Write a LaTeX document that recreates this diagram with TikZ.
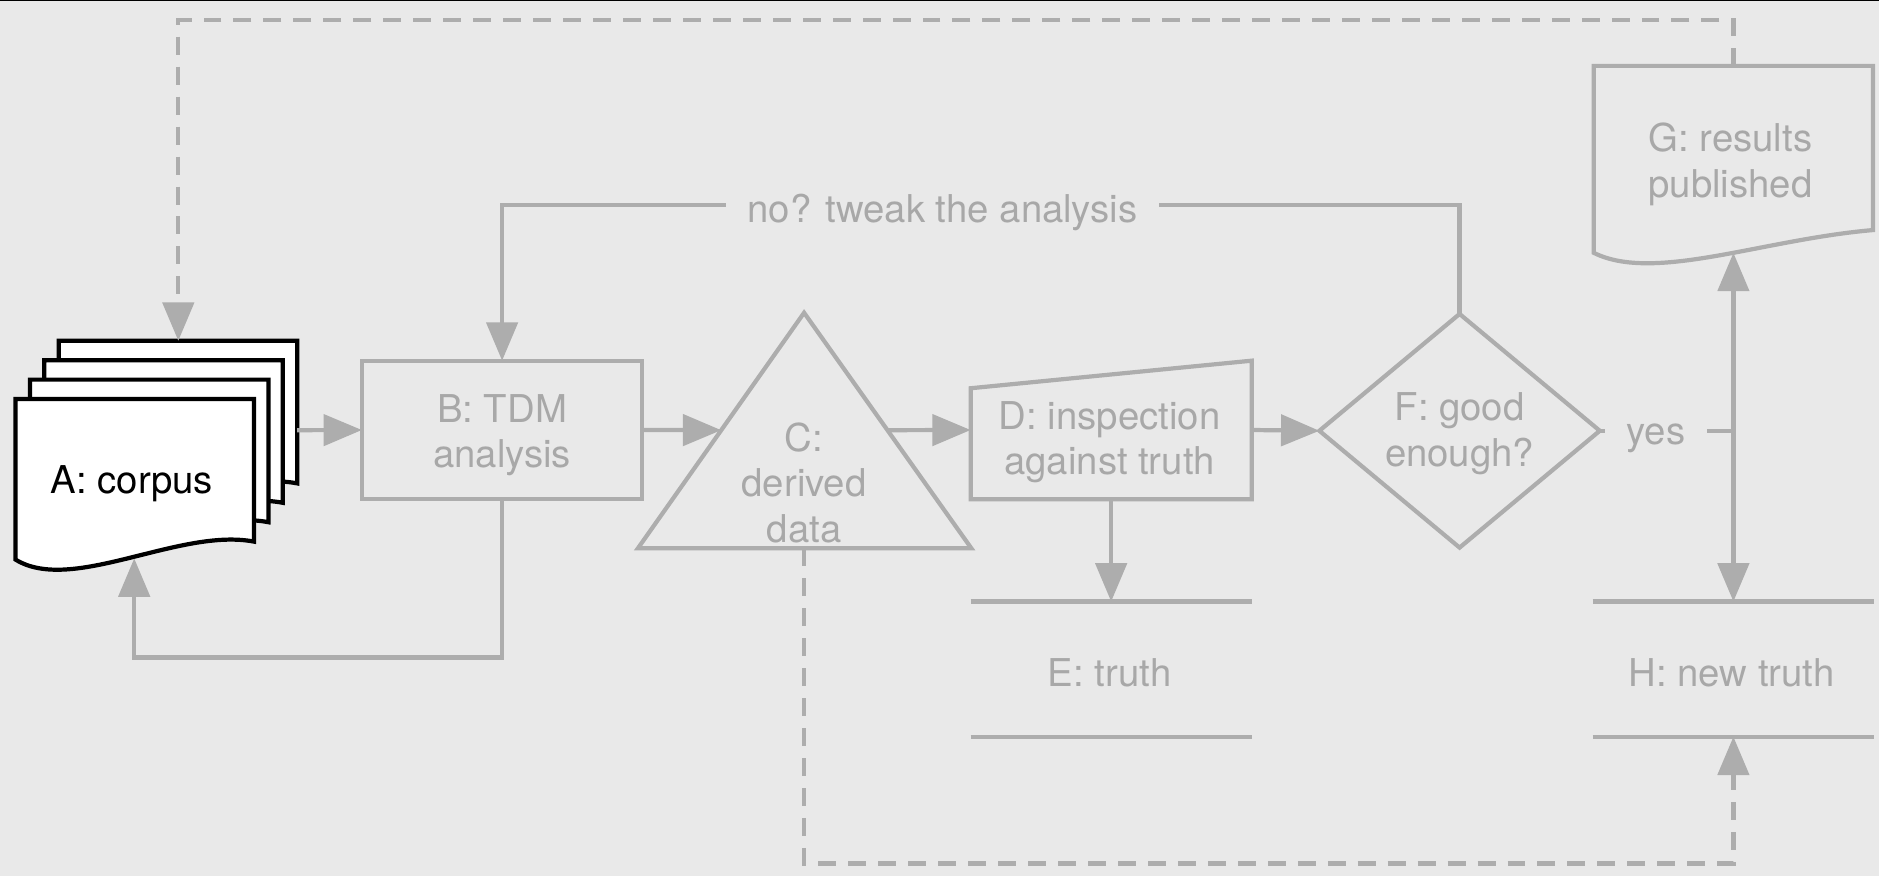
\documentclass[tikz,border=0pt]{standalone}
\usepackage{fontspec}
\setmainfont{TeX Gyre Heros}
\usepackage{tikz}
\usetikzlibrary{arrows.meta,shapes.geometric}
\definecolor{bgc}{RGB}{233,233,233}
\definecolor{ln}{RGB}{173,173,173}
\definecolor{txc}{RGB}{168,168,168}
\newcommand\flowfont{\fontsize{9.1pt}{10.8pt}\selectfont}
\tikzset{>={Triangle[length=3.2mm,width=2.6mm]}}
\tikzset{
  shapebox/.style={inner sep=0,outer sep=0,align=center,text=txc,font=\flowfont},
  shp/.style={draw=ln,line width=1pt,line join=miter},
  flow/.style={ln,line width=1pt,->},
  dflow/.style={flow,dash pattern=on 1.5mm off 1mm},
  lbl/.style={fill=bgc,text=txc,font=\flowfont,inner xsep=1.8mm,inner ysep=0.8mm,yshift=-0.65mm},
  page/.style={draw=black,fill=white,line width=1pt,line join=miter}
}

\begin{document}
\begin{tikzpicture}[x=0.1mm,y=-0.1mm]
    \fill[bgc] (0,0) rectangle (1568,731);
    \useasboundingbox (0,0) rectangle (1568,731);
    \fill[black] (0,0) rectangle (1568,1.2);
    \foreach\k in {3,2,1,0}{
     \draw[page,shift={(12*\k,-16.2*\k)}] (13,333) -- (212,333) -- (212,452)
       .. controls (150,440) and (60,496) .. (13,467) -- cycle;}
    \node[shapebox,text=black] (A) at (110,404) {A: corpus};
    \coordinate (Ae) at (248,359);
    \coordinate (An) at (148.8,284.4);
    \coordinate (As) at (112,466);
    \node[shapebox,shp,minimum width=23.4mm,minimum height=11.57mm] (B) at (419,358.85) {};
    \node[shapebox] (Bt) at (419,363.3) {B: TDM\\analysis};
    \draw[shp] (671,261) -- (810.6,457.6) -- (532.3,457.6) -- cycle;
    \node[shapebox] (C) at (671,403) {C:\\derived\\data};
    \coordinate (Cw) at (601.9,359);
    \coordinate (Ce) at (740.6,359);
    \coordinate (Cs) at (671,457.6);
    \node[shapebox,minimum width=23.45mm,minimum height=11.57mm] (D) at (927.25,358.85) {};
    \draw[shp] (D.south west) -- ([yshift=-2.3mm]D.north west) -- (D.north east) -- (D.south east) -- cycle;
    \node[shapebox] (Dt) at (926,369) {D: inspection\\against truth};
    \node[shapebox,minimum width=23.45mm,minimum height=11.28mm] (E) at (927.25,558.4) {};
    \node[shapebox] (Et) at (926,561.5) {E: truth};
    \node[shapebox,minimum width=23.5mm,minimum height=11.28mm] (H) at (1446.5,558.4) {};
    \node[shapebox] (Ht) at (1445,561.5) {H: new truth};
    \foreach\s in {E,H}{
     \draw[shp] (\s.north west) -- (\s.north east) (\s.south west) -- (\s.south east);}
    \node[shapebox,shp,diamond,minimum width=23.4mm,minimum height=19.5mm] (F) at (1218,359.5) {};
    \node[shapebox] (Ft) at (1218,362) {F: good\\enough?};
    \node[shapebox,minimum width=23.3mm,minimum height=15.6mm] (G) at (1446.5,133) {};
    \node[shapebox] (Gt) at (1444,137) {G: results\\published};
    \draw[shp] (1330,211) -- (1330,55) -- (1563,55) -- (1563,192) .. controls (1470,200) and (1380,236) .. cycle;
    \coordinate (J) at (1446.5,359.5);
    \draw[flow] (Ae) -- (B.west);
    \draw[flow] (B.east) -- (Cw);
    \draw[flow] (Ce) -- (D.west);
    \draw[flow] (D.east) -- (F.west);
    \draw[flow] (D.south) -- (E.north);
    \draw[flow] (F.north) -- ++(0,-91) -| node[lbl,pos=0.27] (tweak) {no? tweak the analysis} (B.north);
    \draw[flow] (B.south) -- ++(0,132) -| (As);
    \draw[shp] (F.east) -- node[lbl,pos=0.42] (yes) {yes} (J);
    \draw[flow] (J) -- (G.south);
    \draw[flow] (J) -- (H.north);
    \draw[dflow] (G.north) -- ++(0,-38.3) -| (An);
    \draw[dflow] (Cs) -- ++(0,263) -| (H.south);
\end{tikzpicture}
\end{document}
